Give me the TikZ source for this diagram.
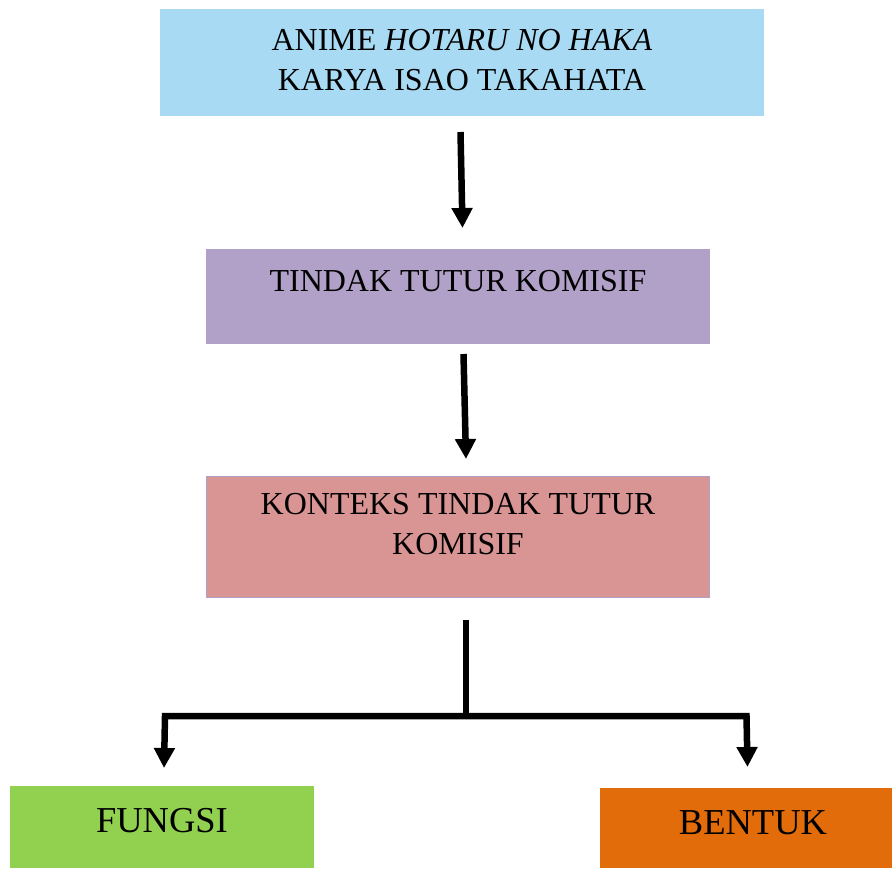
\documentclass[tikz,border=0pt]{standalone}
\usepackage{fontspec}
\setmainfont{Liberation Serif}
\usetikzlibrary{arrows.meta}
\definecolor{topblue}{RGB}{168,218,243}
\definecolor{lavender}{RGB}{177,160,199}
\definecolor{rose}{RGB}{217,149,148}
\definecolor{leaf}{RGB}{146,208,80}
\definecolor{amber}{RGB}{227,108,10}
\tikzset{
  box/.style={draw=none, inner sep=0pt, outer sep=0pt},
  txt/.style={inner sep=0pt, align=center, font=\fontsize{32}{40}\selectfont},
  bigtxt/.style={inner sep=0pt, align=center, font=\fontsize{36.5}{44}\selectfont},
  conn/.style={line width=6.5pt, draw=black, line join=miter},
  tip/.style={-{Triangle[width=20pt,length=20pt]}}
}
\begin{document}
\begin{tikzpicture}[x=1pt,y=-1pt]
\useasboundingbox (0,0) rectangle (892,868);
% boxes
\node[box, fill=topblue, minimum width=604pt, minimum height=107pt] (b1) at (462,62.5) {};
\node[box, fill=lavender, minimum width=504pt, minimum height=95pt] (b2) at (458,296.5) {};
\node[box, fill=rose, draw=lavender, line width=1.2pt, minimum width=503pt, minimum height=121pt] (b3) at (458,537) {};
\node[box, fill=leaf, minimum width=304pt, minimum height=82pt] (b4) at (162,827) {};
\node[box, fill=amber, minimum width=292pt, minimum height=80pt] (b5) at (746,828) {};
% texts
\node[txt] (t1) at (462,60.5) {ANIME \textit{HOTARU NO HAKA}\\KARYA ISAO TAKAHATA};
\node[txt] (t2) at (458,281.4) {TINDAK TUTUR KOMISIF};
\node[txt] (t3) at (458,524.5) {KONTEKS TINDAK TUTUR\\KOMISIF};
\node[bigtxt] (t4) at (162,821) {FUNGSI};
\node[bigtxt] (t5) at (753,823) {BENTUK};
% connector points
\coordinate (a1s) at (460.5,132);
\coordinate (a1e) at (462.5,228);
\coordinate (a2s) at (463.5,354);
\coordinate (a2e) at (466,459);
\coordinate (s3) at (466,620);
\coordinate (j) at (466,716);
\coordinate (lc) at (165,716);
\coordinate (lt) at (164,768);
\coordinate (rc) at (746.5,716);
\coordinate (rt) at (747.5,767);
% connectors
\draw[conn, tip] (a1s) -- (a1e);
\draw[conn, tip] (a2s) -- (a2e);
\draw[conn] (s3) -- (j);
\draw[conn, tip] (j) -- (lc) -- (lt);
\draw[conn, tip] (j) -- (rc) -- (rt);
\end{tikzpicture}
\end{document}
